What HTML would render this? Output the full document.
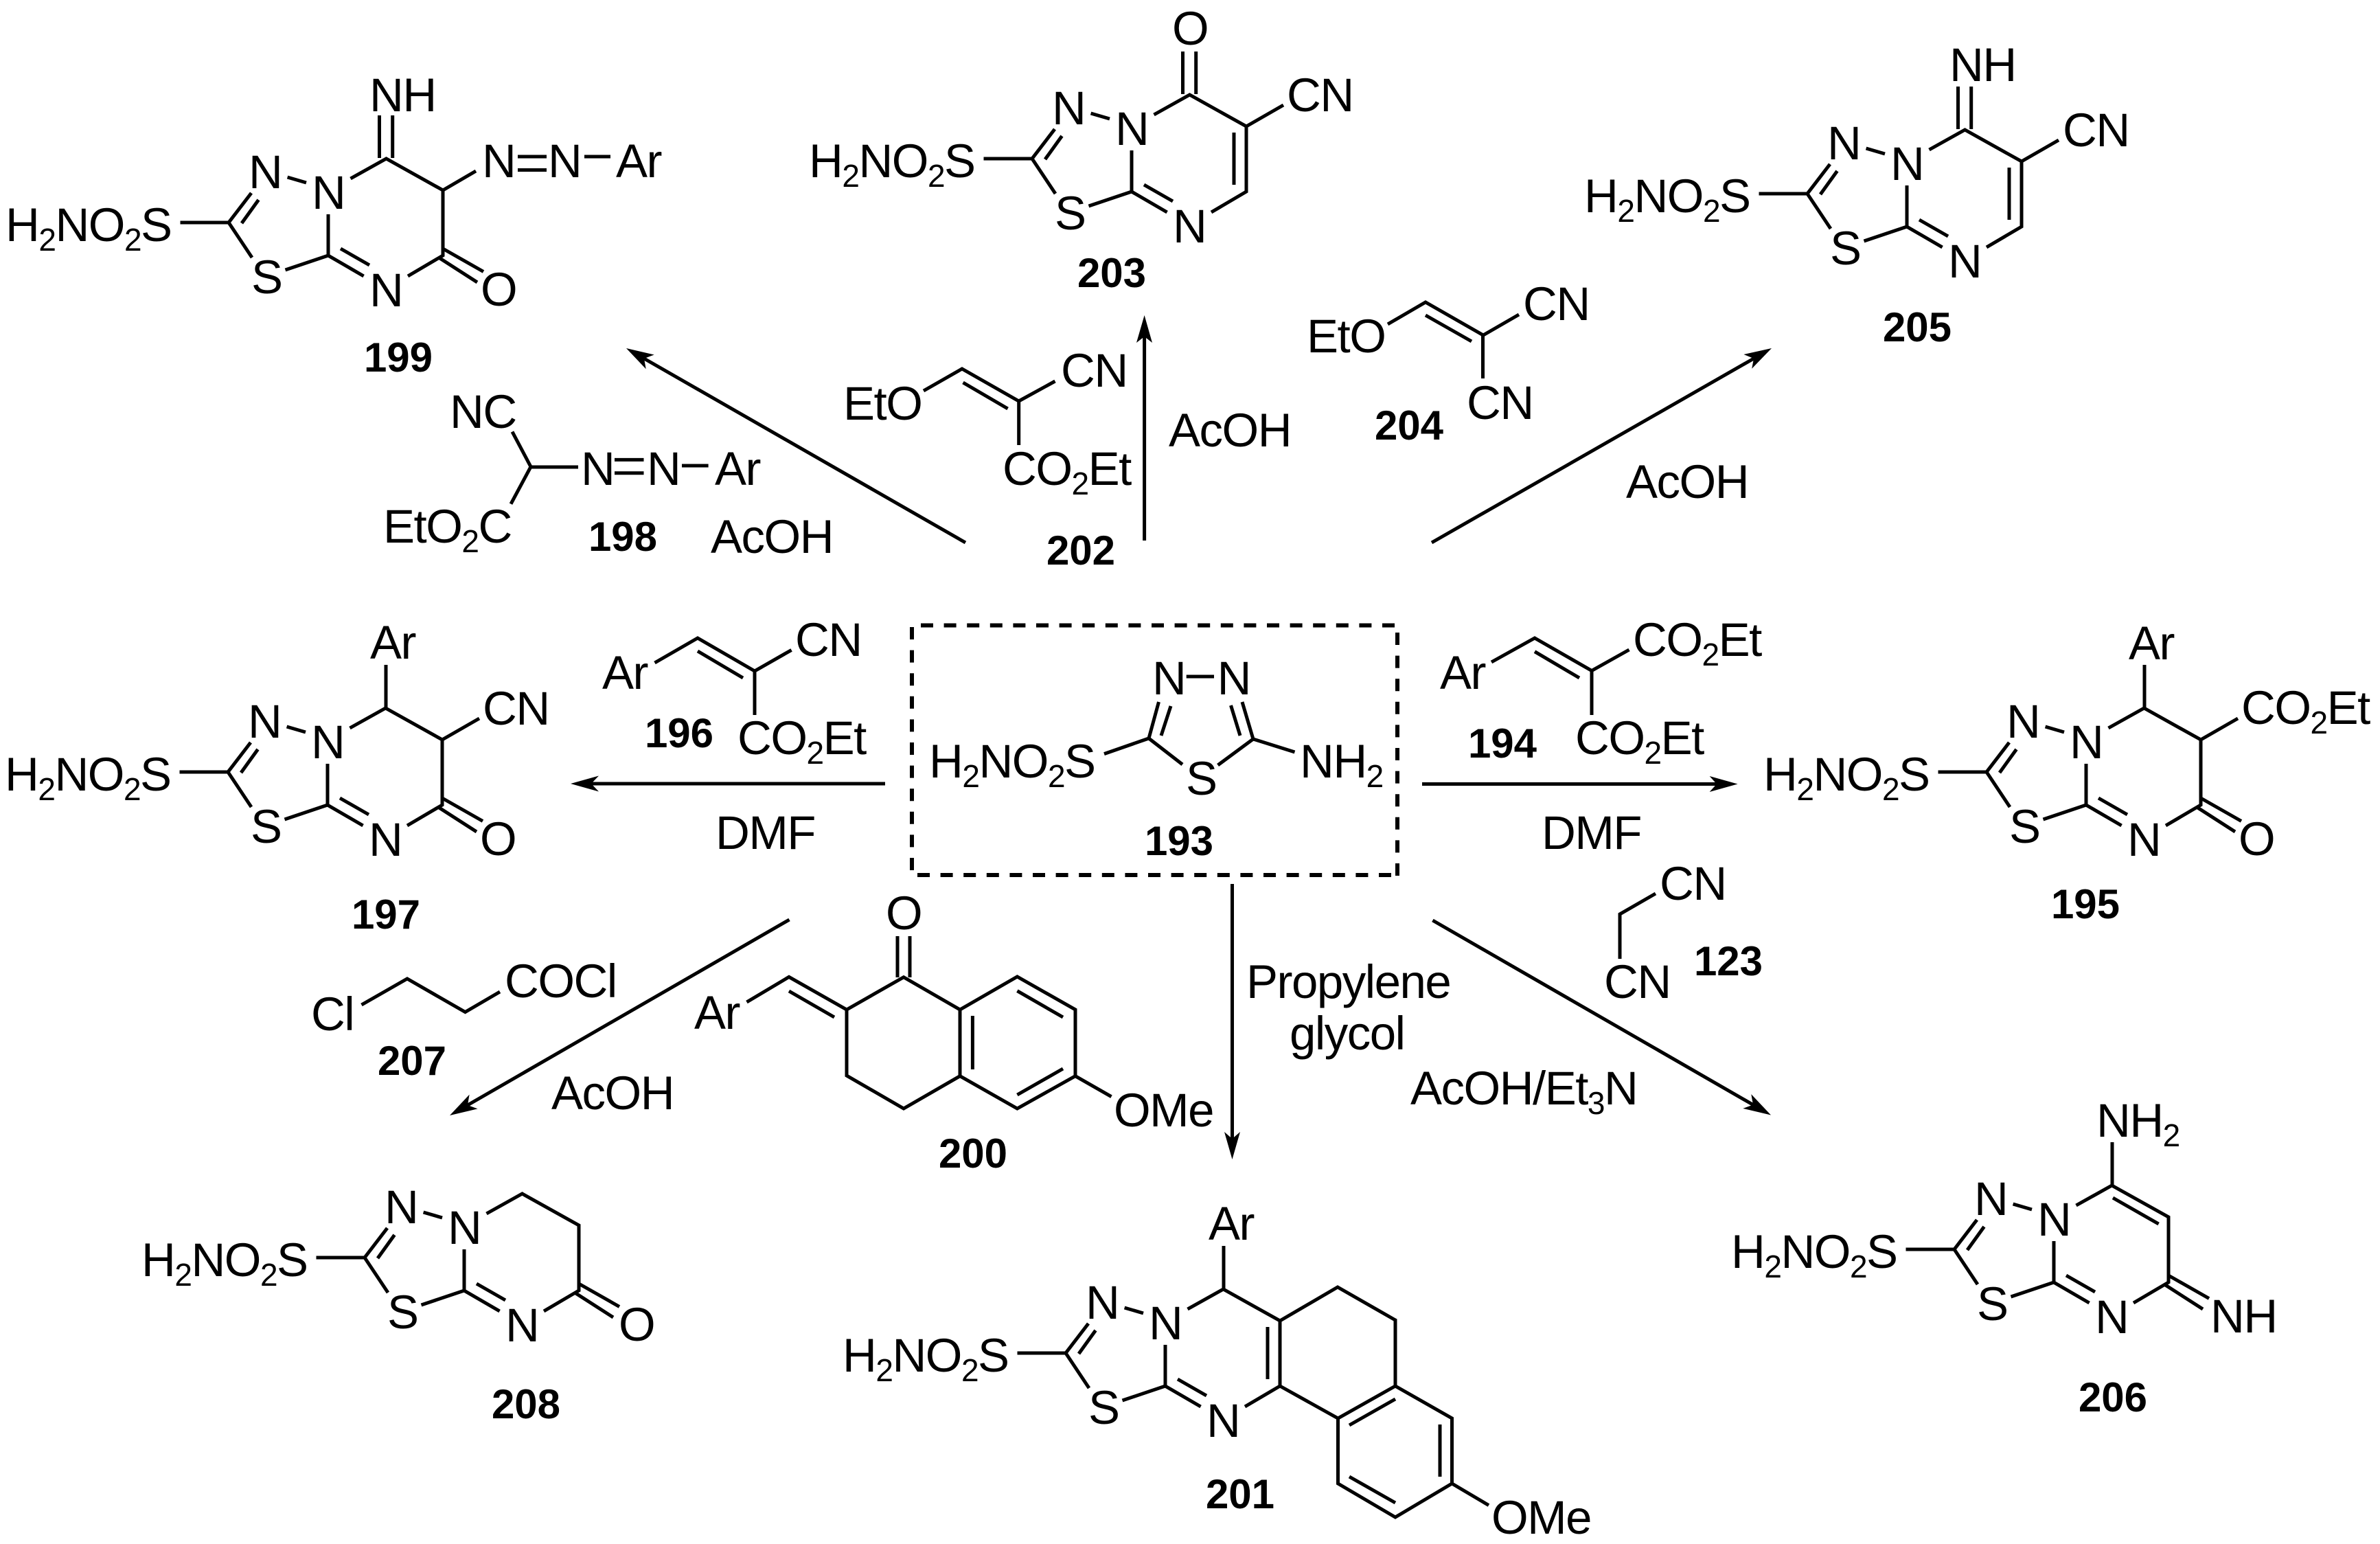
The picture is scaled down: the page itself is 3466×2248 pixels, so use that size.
<!DOCTYPE html>
<html lang="en">
<head>
<meta charset="utf-8">
<title>Reaction scheme</title>
<style>
html,body{margin:0;padding:0;background:#fff}
svg{display:block}
text{font-family:"Liberation Sans",Arial,sans-serif;font-size:69px;letter-spacing:-1.5px;fill:#000}
text.b{font-weight:bold;font-size:60px;letter-spacing:0;text-anchor:middle}
.s{font-size:46px}
.l{fill:none;stroke:#000;stroke-width:5;stroke-linejoin:miter;stroke-linecap:butt}
.d{fill:none;stroke:#000;stroke-width:6;stroke-dasharray:18 15.6}
.h{fill:#000}
</style>
</head>
<body>
<svg xmlns="http://www.w3.org/2000/svg" width="3466" height="2248" viewBox="0 0 3466 2248">
<rect width="3466" height="2248" fill="#fff"/>
<defs>
<path id="sc" class="l" d="M262.5 324H333L366 281M352 325L376.5 291M418.6 258L446 266M333 324L367 375M415.5 393L478 372M478 312V372L529.6 402M496 362L538 386M594 402L645 372V277L562.5 231L510.5 260"/>
<path id="dbl" class="l" d="M552.5 168V230M571.7 168V230"/>
<path id="co" class="l" d="M645 362L704 395.5M639 375L695 411"/>
<path id="cc" class="l" d="M627 286V362"/>
<path id="up" class="l" d="M563 168V231"/>
<path id="side" class="l" d="M645 277L699 246"/>
</defs>

<!-- 199 -->
<g>
<use href="#sc"/><use href="#dbl"/><use href="#co"/>
<path class="l" d="M645 277L693 249M754 228H796M754 247.5H796M851 228H889"/>
<text x="8" y="351">H<tspan class="s" dy="14">2</tspan><tspan dy="-14">NO</tspan><tspan class="s" dy="14">2</tspan><tspan dy="-14">S</tspan></text>
<text x="362" y="274">N</text><text x="454" y="304">N</text><text x="366" y="427">S</text><text x="538" y="446">N</text>
<text x="538" y="162">NH</text><text x="702" y="258">N</text><text x="798" y="258">N</text><text x="897" y="258">Ar</text><text x="700" y="445">O</text>
<text class="b" x="580" y="541">199</text>
</g>

<!-- 203 -->
<g transform="translate(1170,-93)">
<use href="#sc"/><use href="#dbl"/><use href="#cc"/><use href="#side"/>
<text x="8" y="351">H<tspan class="s" dy="14">2</tspan><tspan dy="-14">NO</tspan><tspan class="s" dy="14">2</tspan><tspan dy="-14">S</tspan></text>
<text x="362" y="274">N</text><text x="454" y="304">N</text><text x="366" y="427">S</text><text x="538" y="446">N</text>
<text x="537" y="158">O</text><text x="704" y="255">CN</text>
</g>
<text class="b" x="1619" y="418">203</text>

<!-- 205 -->
<g transform="translate(2299,-42)">
<use href="#sc"/><use href="#dbl"/><use href="#cc"/><use href="#side"/>
<text x="8" y="351">H<tspan class="s" dy="14">2</tspan><tspan dy="-14">NO</tspan><tspan class="s" dy="14">2</tspan><tspan dy="-14">S</tspan></text>
<text x="362" y="274">N</text><text x="454" y="304">N</text><text x="366" y="427">S</text><text x="538" y="446">N</text>
<text x="540" y="160">NH</text><text x="705" y="255">CN</text>
</g>
<text class="b" x="2792" y="497">205</text>

<!-- 197 -->
<g transform="translate(-1,800)">
<use href="#sc"/><use href="#up"/><use href="#co"/><use href="#side"/>
<text x="8" y="351">H<tspan class="s" dy="14">2</tspan><tspan dy="-14">NO</tspan><tspan class="s" dy="14">2</tspan><tspan dy="-14">S</tspan></text>
<text x="362" y="274">N</text><text x="454" y="304">N</text><text x="366" y="427">S</text><text x="538" y="446">N</text>
<text x="540" y="159">Ar</text><text x="704" y="255">CN</text><text x="700" y="445">O</text>
</g>
<text class="b" x="562" y="1352">197</text>

<!-- 195 -->
<g transform="translate(2560,800)">
<use href="#sc"/><use href="#up"/><use href="#co"/><use href="#side"/>
<text x="8" y="351">H<tspan class="s" dy="14">2</tspan><tspan dy="-14">NO</tspan><tspan class="s" dy="14">2</tspan><tspan dy="-14">S</tspan></text>
<text x="362" y="274">N</text><text x="454" y="304">N</text><text x="366" y="427">S</text><text x="538" y="446">N</text>
<text x="540" y="160">Ar</text><text x="704" y="254">CO<tspan class="s" dy="14">2</tspan><tspan dy="-14">Et</tspan></text><text x="700" y="445">O</text>
</g>
<text class="b" x="3037" y="1337">195</text>

<!-- 208 -->
<g transform="translate(198,1507)">
<use href="#sc"/><use href="#co"/>
<text x="8" y="351">H<tspan class="s" dy="14">2</tspan><tspan dy="-14">NO</tspan><tspan class="s" dy="14">2</tspan><tspan dy="-14">S</tspan></text>
<text x="362" y="274">N</text><text x="454" y="304">N</text><text x="366" y="427">S</text><text x="538" y="446">N</text>
<text x="703" y="445">O</text>
</g>
<text class="b" x="766" y="2065">208</text>

<!-- 201 -->
<g transform="translate(1219,1646)">
<use href="#sc"/><use href="#up"/><use href="#cc"/>
<text x="8" y="351">H<tspan class="s" dy="14">2</tspan><tspan dy="-14">NO</tspan><tspan class="s" dy="14">2</tspan><tspan dy="-14">S</tspan></text>
<text x="362" y="274">N</text><text x="454" y="304">N</text><text x="366" y="427">S</text><text x="538" y="446">N</text>
<text x="541" y="159">Ar</text>
</g>
<path class="l" d="M1864 1923L1948 1874L2032 1922V2018L1948.5 2065L1864 2018M2032 2018L2114.5 2065V2160L2032 2209L1948.5 2160V2065M2032 2037L1965 2075M2097 2074V2150M1965 2150L2032 2188M2114.5 2160L2168 2191.6"/>
<text x="2172" y="2233">OMe</text>
<text class="b" x="1806" y="2196">201</text>

<!-- 206 -->
<g transform="translate(2513,1495)">
<use href="#sc"/><use href="#up"/><use href="#co"/>
<path class="l" d="M564 249L630.6 287"/>
<text x="8" y="351">H<tspan class="s" dy="14">2</tspan><tspan dy="-14">NO</tspan><tspan class="s" dy="14">2</tspan><tspan dy="-14">S</tspan></text>
<text x="362" y="274">N</text><text x="454" y="304">N</text><text x="366" y="427">S</text><text x="538" y="446">N</text>
<text x="540" y="160">NH<tspan class="s" dy="14">2</tspan></text><text x="706" y="445">NH</text>
</g>
<text class="b" x="3077" y="2055">206</text>

<!-- 193 -->
<path class="d" d="M1341 910.5H2031M1336 1274H2030M1328 913V1274M2035 921V1276"/>
<path class="l" d="M1687.5 1022L1673 1075L1722 1113M1705 1028L1691 1071M1809 1022L1825 1076L1773.6 1114M1792.5 1027L1806 1071M1727.7 985H1768M1608 1097.6L1673 1075M1825 1076L1885.5 1095"/>
<text x="1678" y="1011">N</text><text x="1772.6" y="1011">N</text><text x="1727" y="1157">S</text>
<text x="1353" y="1132">H<tspan class="s" dy="14">2</tspan><tspan dy="-14">NO</tspan><tspan class="s" dy="14">2</tspan><tspan dy="-14">S</tspan></text>
<text x="1893" y="1132">NH<tspan class="s" dy="14">2</tspan></text>
<text class="b" x="1717" y="1245">193</text>

<!-- 198 -->
<path class="l" d="M746 628.6L773 679.6L744 733.7M773 680H842M895 669.4H937.5M895 688.8H937.5M993 678H1031.6"/>
<text x="655" y="623">NC</text><text x="846" y="706">N</text><text x="942" y="706">N</text><text x="1041" y="706">Ar</text>
<text x="558" y="790">EtO<tspan class="s" dy="14">2</tspan><tspan dy="-14">C</tspan></text>
<text class="b" x="907" y="802">198</text>
<text x="1035" y="805">AcOH</text>

<!-- 202 -->
<path class="l" d="M1345 569L1401 537L1483.7 584L1536.5 555M1402.5 557L1467.6 595M1483.7 584V648"/>
<text x="1228" y="611">EtO</text><text x="1545" y="563">CN</text>
<text x="1460" y="706">CO<tspan class="s" dy="14">2</tspan><tspan dy="-14">Et</tspan></text>
<text class="b" x="1574" y="822">202</text>
<text x="1702" y="650">AcOH</text>

<!-- 204 -->
<path class="l" d="M2021 472L2076 440L2160 488L2212 458M2076 459L2143 497M2159.5 488V551"/>
<text x="1903" y="513">EtO</text><text x="2218" y="466">CN</text><text x="2136" y="610">CN</text>
<text class="b" x="2052" y="640">204</text>
<text x="2368" y="725">AcOH</text>

<!-- 196 -->
<path class="l" d="M953.5 965L1016 929L1099 977L1152.6 946.4M1016 948L1082 987M1099 977V1041"/>
<text x="877" y="1003">Ar</text><text x="1158" y="955">CN</text>
<text x="1074" y="1098">CO<tspan class="s" dy="14">2</tspan><tspan dy="-14">Et</tspan></text>
<text class="b" x="989" y="1088">196</text>
<text x="1042" y="1236">DMF</text>

<!-- 194 -->
<path class="l" d="M2172 964L2235 929L2318 976.5L2372.5 946M2235 948.7L2300 987M2318 976.5V1041"/>
<text x="2097" y="1003">Ar</text>
<text x="2378" y="955">CO<tspan class="s" dy="14">2</tspan><tspan dy="-14">Et</tspan></text>
<text x="2294" y="1098">CO<tspan class="s" dy="14">2</tspan><tspan dy="-14">Et</tspan></text>
<text class="b" x="2188" y="1103">194</text>
<text x="2245" y="1236">DMF</text>

<!-- 123 -->
<path class="l" d="M2411 1301L2359 1331V1396"/>
<text x="2417" y="1310">CN</text><text x="2336" y="1453">CN</text>
<text class="b" x="2517" y="1420">123</text>

<!-- 207 -->
<path class="l" d="M526.5 1463L593 1425L677.5 1473.5L728 1444"/>
<text x="453" y="1500">Cl</text><text x="735" y="1452">COCl</text>
<text class="b" x="600" y="1565">207</text>
<text x="803" y="1615">AcOH</text>

<!-- 200 -->
<path class="l" d="M1087.5 1459L1149 1422.4L1233 1470L1316 1422.7L1398 1470L1481.4 1422L1566 1470V1566.7L1481.4 1614L1398 1566.7V1470M1149 1443L1215 1481M1233 1470V1566L1316 1614L1398 1566.7M1307 1363V1423M1325 1363V1423M1416.4 1479V1557M1481.4 1442.7L1548 1481M1481.4 1594L1548 1556M1566 1566.7L1618.5 1596.7"/>
<text x="1011" y="1498">Ar</text><text x="1290" y="1353">O</text><text x="1622" y="1640">OMe</text>
<text class="b" x="1417" y="1700">200</text>

<!-- conditions -->
<text x="1815" y="1453">Propylene</text>
<text x="1878" y="1528">glycol</text>
<text x="2054" y="1608">AcOH/Et<tspan class="s" dy="14">3</tspan><tspan dy="-14">N</tspan></text>

<!-- arrows -->
<path class="l" d="M1406 790L938 522M1666.6 787V490M2085 790L2554 522M1289 1141H861M2071 1141.5H2500M1149.5 1339L681 1609M1794.5 1287V1658M2086.4 1340L2553 1608.5"/>
<polygon class="h" points="912,507 952.7,516.5 938,522 940.7,537.3"/>
<polygon class="h" points="1666.6,459 1655,499 1666.6,490 1678,499"/>
<polygon class="h" points="2580,507 2539.4,516 2554,522 2551.2,536.8"/>
<polygon class="h" points="831,1141 872,1129.5 861,1141 872,1152.5"/>
<polygon class="h" points="2530.6,1141.5 2489.6,1130 2500,1141.5 2489.6,1153"/>
<polygon class="h" points="655,1624 683.6,1593.6 681,1609 695.6,1614.4"/>
<polygon class="h" points="1794.5,1688 1783,1648 1794.5,1658 1806,1648"/>
<polygon class="h" points="2579,1623.5 2550.3,1593.1 2553,1608.5 2538.3,1613.9"/>
</svg>
</body>
</html>
